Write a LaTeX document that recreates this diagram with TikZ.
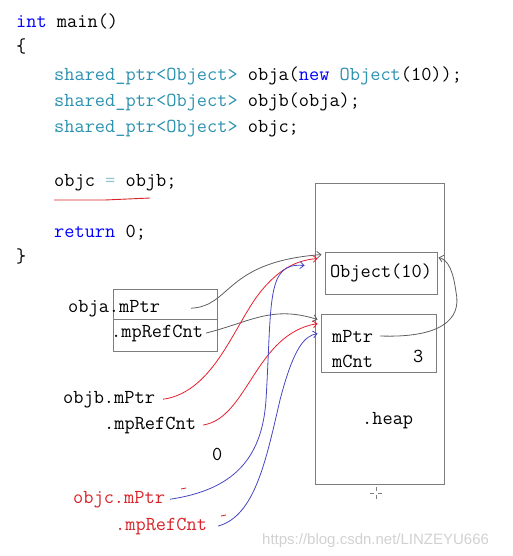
\documentclass[tikz,border=0pt]{standalone}
\usepackage{fontspec}
\newfontfamily\wmfont{Liberation Sans}
\usetikzlibrary{arrows.meta,calc}

\definecolor{kw}{RGB}{0,0,255}
\definecolor{ty}{RGB}{43,145,175}
\definecolor{eqc}{RGB}{150,195,205}
\definecolor{lred}{RGB}{215,35,40}
\definecolor{ared}{RGB}{230,30,45}
\definecolor{ablue}{RGB}{70,70,195}
\definecolor{agray}{RGB}{95,95,95}
\definecolor{boxc}{RGB}{125,125,125}
\newcommand{\codefont}{\fontsize{19.8}{24}\ttfamily}

\tikzset{
  code/.style={anchor=base west, inner sep=0pt, font=\codefont},
  box/.style={draw=boxc, line width=0.9pt, inner sep=0pt},
  ptr/.style={-{Straight Barb[length=4pt,width=7pt]}, line width=0.8pt},
}

\begin{document}
\begin{tikzpicture}[x=1pt, y=-1pt]
	\useasboundingbox (0,0) rectangle (512,556);
	% source code
	\node[code] (l1) at (16,28) {\textcolor{kw}{int} main()};
	\node[code] (l2) at (16,53) {\{};
	\node[code] (l3) at (54,81) {\textcolor{ty}{shared\_ptr<Object>} obja(\textcolor{kw}{new} \textcolor{ty}{Object}(10));};
	\node[code] (l4) at (54,107) {\textcolor{ty}{shared\_ptr<Object>} objb(obja);};
	\node[code] (l5) at (54,133) {\textcolor{ty}{shared\_ptr<Object>} objc;};
	\node[code] (l6) at (54,186) {objc \textcolor{eqc}{=} objb;};
	\node[code] (l7) at (54,237) {\textcolor{kw}{return} 0;};
	\node[code] (l8) at (16,262) {\}};
	\draw[lred, line width=0.9pt] (54,200) -- (105,200) -- (150,198);

	% heap
	\node[box, minimum width=129, minimum height=301] (heap) at (379.5,333.5) {};
	\node[box, minimum width=112, minimum height=42, font=\codefont] (obj) at (381,273) {Object(10)};
	\node[box, minimum width=115, minimum height=58] (cb) at (378.5,343) {};
	\node[code] (cbptr) at (332,342) {mPtr};
	\node[code] (cbcnt) at (332,367) {mCnt};
	\node[code] (cnt) at (413,362) {3};
	\node[code] (heaplbl) at (362,424) {.heap};
	\draw[boxc, line width=0.7pt] (370,493) -- (374,493) (378,493) -- (382,493)
		(376,487) -- (376,491) (376,495) -- (376,499);

	% obja
	\node[box, minimum width=104, minimum height=30] (objatop) at (165,304) {};
	\node[box, minimum width=104, minimum height=32] (objabot) at (165,335) {};
	\node[code] (objaptr) at (68,312) {obja.mPtr};
	\node[code] (objacnt) at (111,337) {.mpRefCnt};

	% objb
	\node[code] (objbptr) at (63,403) {objb.mPtr};
	\node[code] (objbcnt) at (104,429) {.mpRefCnt};
	\node[code] (zero) at (212,460) {0};

	% objc
	\node[code, text=lred] (objcptr) at (73,503) {objc.mPtr};
	\node[code, text=lred] (objccnt) at (115,530) {.mpRefCnt};
	\draw[lred, line width=0.8pt] (181,489) -- (186,488) (221,516) -- (226,515);

	% pointers
	\draw[ptr, agray] ([xshift=31pt]objaptr.east) .. controls (232,306) and (224,262) .. ($(obj.north west)+(-3,3)$);
	\draw[ptr, agray] ([xshift=3pt]objacnt.east) .. controls (250,322) and (272,305) .. ($(cb.north west)+(-3,6)$);
	\draw[ptr, agray] ([xshift=7pt]cbptr.east) .. controls (440,338) and (462,320) .. (456,292) .. controls (453,270) and (448,260) .. ($(obj.north east)+(1,6)$);
	\draw[ptr, ared] ([xshift=8pt]objbptr.east) .. controls (215,392) and (235,322) .. (262,290) .. controls (282,266) and (300,260) .. ($(obj.north west)+(-7,7)$);
	\draw[ptr, ared] ([xshift=7pt]objbcnt.east) .. controls (248,418) and (255,334) .. ($(cb.north west)+(-3,10)$);
	\draw[ptr, ablue] ([xshift=5pt]objcptr.east) .. controls (232,490) and (262,460) .. (266,400) .. controls (272,300) and (266,262) .. ($(obj.north west)+(-20,14)$);
	\draw[ptr, ablue] ([xshift=11pt]objccnt.east) .. controls (255,516) and (266,460) .. (280,400) .. controls (294,346) and (305,336) .. ($(cb.north west)+(-3,20)$);

	% watermark
	\node[anchor=base west, inner sep=0pt, font=\wmfont\fontsize{15}{18}\selectfont, text=black!18] (wm) at (262,544) {https://blog.csdn.net/LINZEYU666};
\end{tikzpicture}
\end{document}
